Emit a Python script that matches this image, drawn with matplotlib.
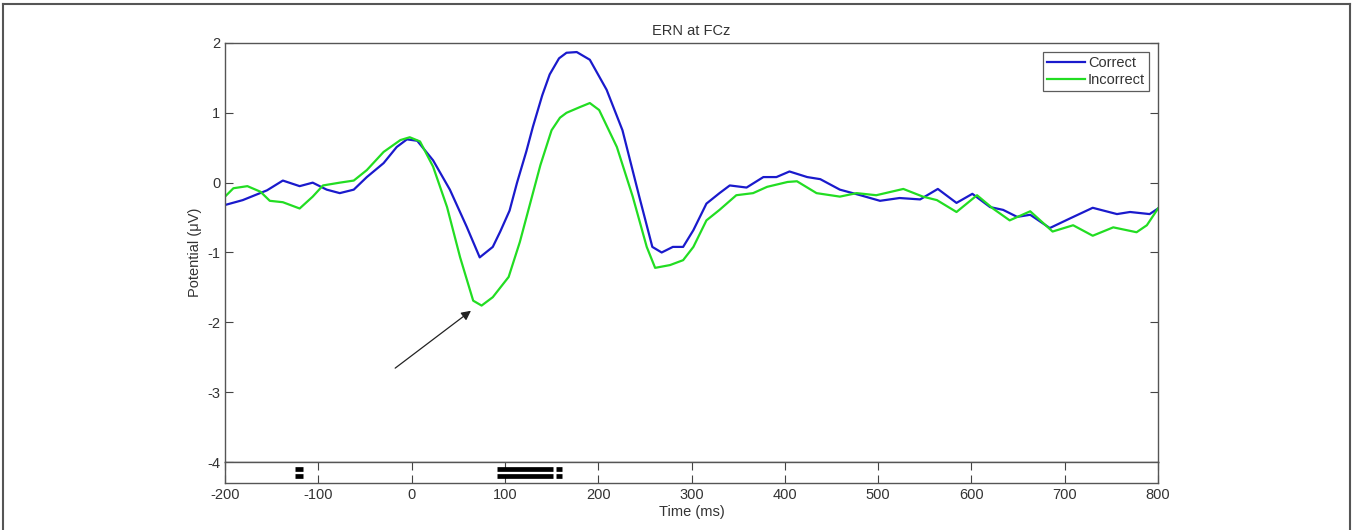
import matplotlib
matplotlib.use('Agg')
import matplotlib.pyplot as plt
from matplotlib.lines import Line2D

plt.rcParams['font.family'] = ['Liberation Sans', 'DejaVu Sans']
plt.rcParams['axes.unicode_minus'] = False

# ERP waveforms (ms, microvolts)
t_correct = [-200, -181, -155, -138, -120, -106, -91, -77, -62, -48, -30, -16, -5, 6, 23, 41, 59, 73,
             87, 95, 105, 113, 123, 130, 140, 148, 158, 166, 177, 191, 209, 226, 244, 258, 268, 280,
             291, 302, 316, 330, 341, 359, 377, 391, 405, 424, 438, 459, 481, 502, 523, 545, 564,
             584, 601, 620, 634, 649, 663, 684, 706, 730, 756, 770, 791, 800]
v_correct = [-0.32, -0.25, -0.11, 0.03, -0.05, 0.0, -0.1, -0.15, -0.1, 0.08, 0.28, 0.51, 0.62, 0.6,
             0.32, -0.1, -0.63, -1.07, -0.92, -0.7, -0.4, 0.0, 0.45, 0.8, 1.25, 1.55, 1.78, 1.86,
             1.87, 1.76, 1.33, 0.75, -0.2, -0.92, -1.0, -0.92, -0.92, -0.68, -0.3, -0.15, -0.04,
             -0.07, 0.08, 0.08, 0.16, 0.08, 0.05, -0.1, -0.18, -0.26, -0.22, -0.24, -0.09, -0.29,
             -0.16, -0.35, -0.39, -0.49, -0.46, -0.65, -0.51, -0.36, -0.45, -0.42, -0.45, -0.37]

t_incorrect = [-200, -191, -176, -162, -152, -138, -120, -106, -95, -77, -62, -48, -30, -12, -2, 9,
               23, 38, 52, 66, 75, 87, 104, 116, 123, 138, 150, 159, 166, 180, 191, 201, 220, 237,
               252, 261, 277, 291, 302, 316, 330, 348, 366, 381, 403, 413, 434, 459, 477, 498, 527,
               548, 563, 584, 606, 623, 641, 663, 687, 709, 730, 752, 777, 788, 800]
v_incorrect = [-0.2, -0.08, -0.05, -0.13, -0.26, -0.28, -0.37, -0.2, -0.04, 0.0, 0.03, 0.18, 0.44,
               0.61, 0.65, 0.59, 0.23, -0.35, -1.07, -1.69, -1.76, -1.64, -1.35, -0.85, -0.5, 0.25,
               0.75, 0.93, 1.0, 1.08, 1.14, 1.04, 0.51, -0.2, -0.92, -1.22, -1.18, -1.11, -0.92,
               -0.54, -0.39, -0.18, -0.15, -0.06, 0.01, 0.02, -0.15, -0.2, -0.15, -0.18, -0.09,
               -0.2, -0.25, -0.42, -0.18, -0.37, -0.54, -0.41, -0.7, -0.61, -0.76, -0.64, -0.71,
               -0.61, -0.37]

# significant time windows (ms) shown under the plot
sig_start = [-125, 92, 155]
sig_end = [-116, 152, 161]

x_ticks = [-200, -100, 0, 100, 200, 300, 400, 500, 600, 700, 800]
y_ticks = [-4, -3, -2, -1, 0, 1, 2]

txt = '#333333'
fig = plt.figure(figsize=(13.53, 5.30), dpi=100)

ax = fig.add_axes([0.1663, 0.1283, 0.6896, 0.7906])
strip = fig.add_axes([0.1663, 0.0887, 0.6896, 0.0396], sharex=ax)

ax.plot(t_correct, v_correct, color='#1a1acc', lw=1.6, label='Correct')
ax.plot(t_incorrect, v_incorrect, color='#22dd22', lw=1.6, label='Incorrect')
ax.set_xlim(-200, 800)
ax.set_ylim(-4, 2)
ax.set_yticks(y_ticks)
ax.set_xticks(x_ticks)
ax.tick_params(axis='x', which='both', bottom=False, top=False, labelbottom=False)
ax.tick_params(axis='y', direction='in', left=True, right=True, length=6, color='#444444',
               labelsize=10.5, labelcolor=txt)
ax.set_ylabel('Potential (\u03bcV)', fontsize=10.5, color=txt)
ax.set_title('ERN at FCz', fontsize=10.5, color=txt, pad=6)
for s in ax.spines.values():
    s.set_color('#555555')
    s.set_linewidth(1.0)

ax.annotate('', xy=(66, -1.81), xytext=(-20, -2.68),
            arrowprops=dict(arrowstyle='-|>', color='#222222', lw=0.9, mutation_scale=14))

leg = ax.legend(loc='upper right', fontsize=10.5, frameon=True, fancybox=False,
                handlelength=2.6, handletextpad=0.2, borderpad=0.3, labelspacing=0.2,
                borderaxespad=0.6)
leg.get_frame().set_edgecolor('#333333')
leg.get_frame().set_linewidth(0.9)
for t in leg.get_texts():
    t.set_color(txt)

for a, b in zip(sig_start, sig_end):
    strip.hlines([0.66, 0.34], a, b, colors='black', lw=3.4)
strip.set_ylim(0, 1)
strip.set_yticks([])
strip.set_xticks(x_ticks)
strip.tick_params(axis='x', direction='in', top=True, bottom=True, length=6, color='#444444',
                  labelsize=10.5, labelcolor=txt)
strip.set_xlabel('Time (ms)', fontsize=10.5, color=txt, labelpad=2)
for s in strip.spines.values():
    s.set_color('#555555')
    s.set_linewidth(1.0)

# thin frame around the figure
for xs, ys in [([0.002, 0.002], [0, 0.993]), ([0.002, 0.998], [0.993, 0.993]),
               ([0.998, 0.998], [0, 0.993])]:
    fig.add_artist(Line2D(xs, ys, color='#555555', lw=1.5, transform=fig.transFigure))

fig.savefig('out.png', dpi=100, facecolor='white')
